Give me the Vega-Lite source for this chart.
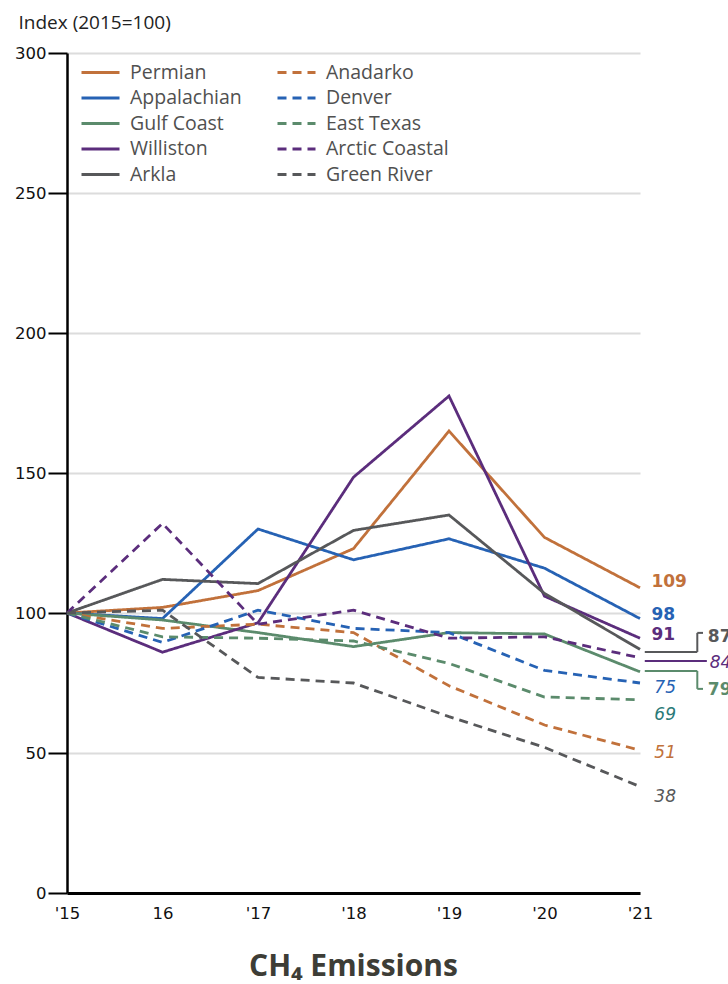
{
  "$schema": "https://vega.github.io/schema/vega-lite/v6.json",
  "width": 573,
  "height": 840,
  "autosize": {"type": "none"},
  "padding": {"left": 67, "top": 53, "right": 88, "bottom": 91},
  "background": "white",
  "config": {
    "view": {"stroke": null},
    "axis": {"labelFont": "DejaVu Sans", "labelFontSize": 16.5, "labelColor": "#111"},
    "legend": {"labelFont": "Open Sans", "labelFontSize": 19.5, "labelColor": "#505050"}
  },
  "title": {"text": "CH₄ Emissions", "orient": "bottom", "anchor": "middle", "fontSize": 30, "font": "Open Sans", "fontWeight": "bold", "color": "#3d3d36", "offset": 30},
  "datasets": {
    "series": [
      {"basin": "Permian", "year": 2015, "value": 100}, {"basin": "Permian", "year": 2016, "value": 102}, {"basin": "Permian", "year": 2017, "value": 108}, {"basin": "Permian", "year": 2018, "value": 123}, {"basin": "Permian", "year": 2019, "value": 165}, {"basin": "Permian", "year": 2020, "value": 127}, {"basin": "Permian", "year": 2021, "value": 109},
      {"basin": "Appalachian", "year": 2015, "value": 100}, {"basin": "Appalachian", "year": 2016, "value": 98}, {"basin": "Appalachian", "year": 2017, "value": 130}, {"basin": "Appalachian", "year": 2018, "value": 119}, {"basin": "Appalachian", "year": 2019, "value": 126.5}, {"basin": "Appalachian", "year": 2020, "value": 116}, {"basin": "Appalachian", "year": 2021, "value": 98},
      {"basin": "Gulf Coast", "year": 2015, "value": 100}, {"basin": "Gulf Coast", "year": 2016, "value": 97.5}, {"basin": "Gulf Coast", "year": 2017, "value": 93}, {"basin": "Gulf Coast", "year": 2018, "value": 88}, {"basin": "Gulf Coast", "year": 2019, "value": 93}, {"basin": "Gulf Coast", "year": 2020, "value": 92.5}, {"basin": "Gulf Coast", "year": 2021, "value": 79},
      {"basin": "Williston", "year": 2015, "value": 100}, {"basin": "Williston", "year": 2016, "value": 86}, {"basin": "Williston", "year": 2017, "value": 96.5}, {"basin": "Williston", "year": 2018, "value": 148.5}, {"basin": "Williston", "year": 2019, "value": 177.5}, {"basin": "Williston", "year": 2020, "value": 106}, {"basin": "Williston", "year": 2021, "value": 91},
      {"basin": "Arkla", "year": 2015, "value": 100}, {"basin": "Arkla", "year": 2016, "value": 112}, {"basin": "Arkla", "year": 2017, "value": 110.5}, {"basin": "Arkla", "year": 2018, "value": 129.5}, {"basin": "Arkla", "year": 2019, "value": 135}, {"basin": "Arkla", "year": 2020, "value": 107}, {"basin": "Arkla", "year": 2021, "value": 87},
      {"basin": "Anadarko", "year": 2015, "value": 100}, {"basin": "Anadarko", "year": 2016, "value": 94.5}, {"basin": "Anadarko", "year": 2017, "value": 96}, {"basin": "Anadarko", "year": 2018, "value": 93}, {"basin": "Anadarko", "year": 2019, "value": 74}, {"basin": "Anadarko", "year": 2020, "value": 60}, {"basin": "Anadarko", "year": 2021, "value": 51},
      {"basin": "Denver", "year": 2015, "value": 100}, {"basin": "Denver", "year": 2016, "value": 89.5}, {"basin": "Denver", "year": 2017, "value": 101}, {"basin": "Denver", "year": 2018, "value": 94.5}, {"basin": "Denver", "year": 2019, "value": 93}, {"basin": "Denver", "year": 2020, "value": 79.5}, {"basin": "Denver", "year": 2021, "value": 75},
      {"basin": "East Texas", "year": 2015, "value": 100}, {"basin": "East Texas", "year": 2016, "value": 91.5}, {"basin": "East Texas", "year": 2017, "value": 91}, {"basin": "East Texas", "year": 2018, "value": 90}, {"basin": "East Texas", "year": 2019, "value": 82}, {"basin": "East Texas", "year": 2020, "value": 70}, {"basin": "East Texas", "year": 2021, "value": 69},
      {"basin": "Arctic Coastal", "year": 2015, "value": 100}, {"basin": "Arctic Coastal", "year": 2016, "value": 132}, {"basin": "Arctic Coastal", "year": 2017, "value": 96}, {"basin": "Arctic Coastal", "year": 2018, "value": 101}, {"basin": "Arctic Coastal", "year": 2019, "value": 91}, {"basin": "Arctic Coastal", "year": 2020, "value": 91.5}, {"basin": "Arctic Coastal", "year": 2021, "value": 84},
      {"basin": "Green River", "year": 2015, "value": 100}, {"basin": "Green River", "year": 2016, "value": 101}, {"basin": "Green River", "year": 2017, "value": 77}, {"basin": "Green River", "year": 2018, "value": 75}, {"basin": "Green River", "year": 2019, "value": 63}, {"basin": "Green River", "year": 2020, "value": 52}, {"basin": "Green River", "year": 2021, "value": 38}
    ],
    "labels": [
      {"basin": "Permian", "kind": "solid", "year": 2021.12, "value": 111, "text": "109"},
      {"basin": "Appalachian", "kind": "solid", "year": 2021.12, "value": 99.3, "text": "98"},
      {"basin": "Williston", "kind": "solid", "year": 2021.12, "value": 92.1, "text": "91"},
      {"basin": "Arkla", "kind": "solid", "year": 2021.71, "value": 91.4, "text": "87"},
      {"basin": "Gulf Coast", "kind": "solid", "year": 2021.71, "value": 72.5, "text": "79"},
      {"basin": "Arctic Coastal", "kind": "dashed", "year": 2021.73, "value": 82.1, "text": "84"},
      {"basin": "Denver", "kind": "dashed", "year": 2021.15, "value": 73.2, "text": "75"},
      {"basin": "East Texas", "kind": "dashed", "year": 2021.15, "value": 63.6, "text": "69"},
      {"basin": "Anadarko", "kind": "dashed", "year": 2021.15, "value": 50, "text": "51"},
      {"basin": "Green River", "kind": "dashed", "year": 2021.15, "value": 34.3, "text": "38"}
    ],
    "leaders": [
      {"basin": "Arkla", "x": 2021.05, "x2": 2021.6, "y": 86.1, "y2": 86.1},
      {"basin": "Arkla", "x": 2021.6, "x2": 2021.6, "y": 86.1, "y2": 92.9},
      {"basin": "Arkla", "x": 2021.6, "x2": 2021.66, "y": 92.9, "y2": 92.9},
      {"basin": "Arctic Coastal", "x": 2021.05, "x2": 2021.7, "y": 82.9, "y2": 82.9},
      {"basin": "Gulf Coast", "x": 2021.05, "x2": 2021.6, "y": 79.3, "y2": 79.3},
      {"basin": "Gulf Coast", "x": 2021.6, "x2": 2021.6, "y": 79.3, "y2": 72.9},
      {"basin": "Gulf Coast", "x": 2021.6, "x2": 2021.66, "y": 72.9, "y2": 72.9}
    ]
  },
  "layer": [
    {
      "data": {"name": "series"},
      "mark": {"type": "line", "strokeWidth": 2.8, "strokeCap": "butt"},
      "encoding": {
        "x": {
          "field": "year", "type": "quantitative",
          "scale": {"domain": [2015, 2021], "nice": false, "zero": false},
          "axis": {
            "title": null, "values": [2015, 2016, 2017, 2018, 2019, 2020, 2021],
            "labelExpr": "datum.value == 2016 ? '16' : \"'\" + substring(toString(datum.value), 2, 4)",
            "ticks": false, "grid": false, "domainColor": "black", "domainWidth": 3,
            "labelFont": "DejaVu Sans", "labelFontSize": 16.5, "labelColor": "#111",
            "labelPadding": 12, "labelFlush": false
          }
        },
        "y": {
          "field": "value", "type": "quantitative",
          "scale": {"domain": [0, 300], "nice": false},
          "axis": {
            "title": "Index (2015=100)", "titleAngle": 0, "titleAlign": "left", "titleBaseline": "alphabetic",
            "titleX": -49, "titleY": -25, "titleFont": "Open Sans", "titleFontSize": 19, "titleFontWeight": "normal", "titleColor": "#222",
            "values": [0, 50, 100, 150, 200, 250, 300],
            "domainColor": "black", "domainWidth": 2.5, "tickColor": "black", "tickWidth": 2, "tickSize": 19,
            "labelFont": "DejaVu Sans", "labelFontSize": 16.5, "labelColor": "#111",
            "labelPadding": 2, "gridColor": "#dcdcdc", "gridWidth": 2
          }
        },
        "color": {
          "field": "basin", "type": "nominal",
          "scale": {
            "domain": ["Permian", "Appalachian", "Gulf Coast", "Williston", "Arkla", "Anadarko", "Denver", "East Texas", "Arctic Coastal", "Green River"],
            "range": ["#c1713b", "#2662b4", "#5b8b6c", "#5b2d7c", "#57585a", "#c1713b", "#2662b4", "#5b8b6c", "#5b2d7c", "#57585a"]
          },
          "legend": {
            "title": null, "orient": "none", "legendX": 22, "legendY": 8, "columns": 2, "columnPadding": 29,
            "symbolType": "M-1.9,0H1.9", "symbolSize": 400, "symbolStrokeWidth": 3, "rowPadding": 4.5,
            "labelOffset": 18, "padding": 0
          }
        },
        "strokeDash": {
          "field": "basin", "type": "nominal",
          "scale": {
            "domain": ["Permian", "Appalachian", "Gulf Coast", "Williston", "Arkla", "Anadarko", "Denver", "East Texas", "Arctic Coastal", "Green River"],
            "range": [[1, 0], [1, 0], [1, 0], [1, 0], [1, 0], [9, 6], [9, 6], [9, 6], [9, 6], [9, 6]]
          },
          "legend": {
            "title": null, "orient": "none", "legendX": 22, "legendY": 8, "columns": 2, "columnPadding": 29,
            "symbolType": "M-1.9,0H1.9", "symbolSize": 400, "symbolStrokeWidth": 3, "rowPadding": 4.5,
            "labelOffset": 18, "padding": 0
          }
        }
      }
    },
    {
      "data": {"name": "leaders"},
      "mark": {"type": "rule", "strokeWidth": 2},
      "encoding": {
        "x": {"field": "x", "type": "quantitative"},
        "x2": {"field": "x2"},
        "y": {"field": "y", "type": "quantitative"},
        "y2": {"field": "y2"},
        "color": {"field": "basin", "type": "nominal", "legend": null}
      }
    },
    {
      "data": {"name": "labels"},
      "transform": [{"filter": "datum.kind == 'solid'"}],
      "mark": {"type": "text", "align": "left", "baseline": "middle", "font": "DejaVu Sans", "fontSize": 17, "fontWeight": "bold"},
      "encoding": {
        "x": {"field": "year", "type": "quantitative"},
        "y": {"field": "value", "type": "quantitative"},
        "text": {"field": "text"},
        "color": {"field": "basin", "type": "nominal", "legend": null}
      }
    },
    {
      "data": {"name": "labels"},
      "transform": [{"filter": "datum.kind == 'dashed'"}],
      "mark": {"type": "text", "align": "left", "baseline": "middle", "font": "DejaVu Sans", "fontSize": 17, "fontStyle": "italic"},
      "encoding": {
        "x": {"field": "year", "type": "quantitative"},
        "y": {"field": "value", "type": "quantitative"},
        "text": {"field": "text"},
        "color": {"condition": {"test": "datum.basin == 'East Texas'", "value": "#2a7a78"}, "field": "basin", "type": "nominal", "legend": null}
      }
    }
  ]
}
